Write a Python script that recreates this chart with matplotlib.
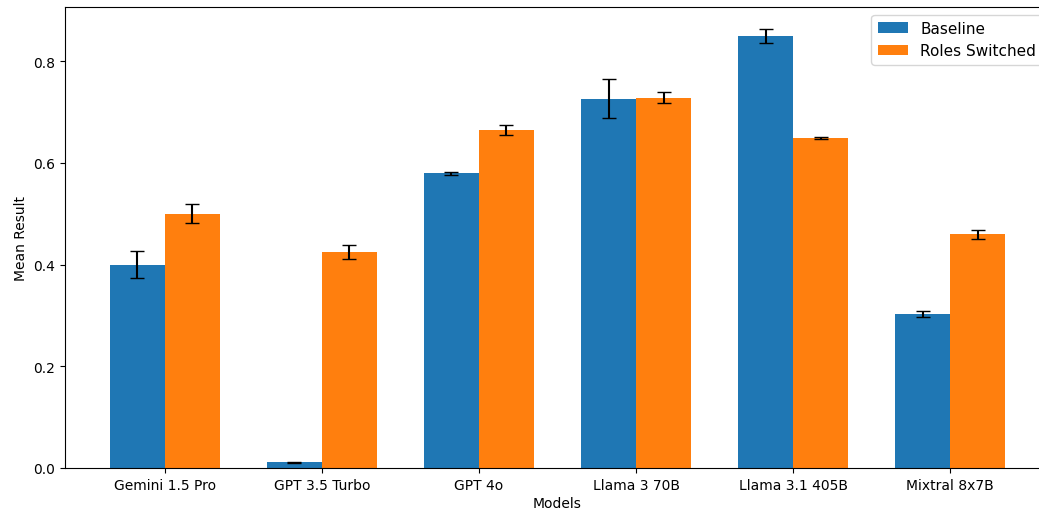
import numpy as np
import matplotlib
matplotlib.use("Agg")
import matplotlib.pyplot as plt

models = ["Gemini 1.5 Pro", "GPT 3.5 Turbo", "GPT 4o", "Llama 3 70B", "Llama 3.1 405B", "Mixtral 8x7B"]
baseline = [0.400, 0.011, 0.579, 0.726, 0.849, 0.303]
baseline_err = [0.027, 0.001, 0.003, 0.038, 0.014, 0.006]
switched = [0.500, 0.424, 0.664, 0.728, 0.648, 0.459]
switched_err = [0.018, 0.014, 0.010, 0.011, 0.002, 0.009]

W, H = 1039, 510
fig = plt.figure(figsize=(W / 100, H / 100), dpi=100)
# the reference is cropped on the right: the axes extend past the canvas edge
ax = fig.add_axes([65 / W, 1 - 469 / H, (1050 - 65) / W, (469 - 8) / H])

x = np.arange(len(models))
width = 0.35
ax.bar(x - width / 2, baseline, width, yerr=baseline_err, capsize=5,
       color="#1f77b4", label="Baseline")
ax.bar(x + width / 2, switched, width, yerr=switched_err, capsize=5,
       color="#ff7f0e", label="Roles Switched")

ax.set_xticks(x)
ax.set_xticklabels(models)
ax.set_xlabel("Models", labelpad=3)
ax.set_ylabel("Mean Result")
ax.legend(loc="upper right", fontsize=11)

fig.savefig("out.png", dpi=100)
